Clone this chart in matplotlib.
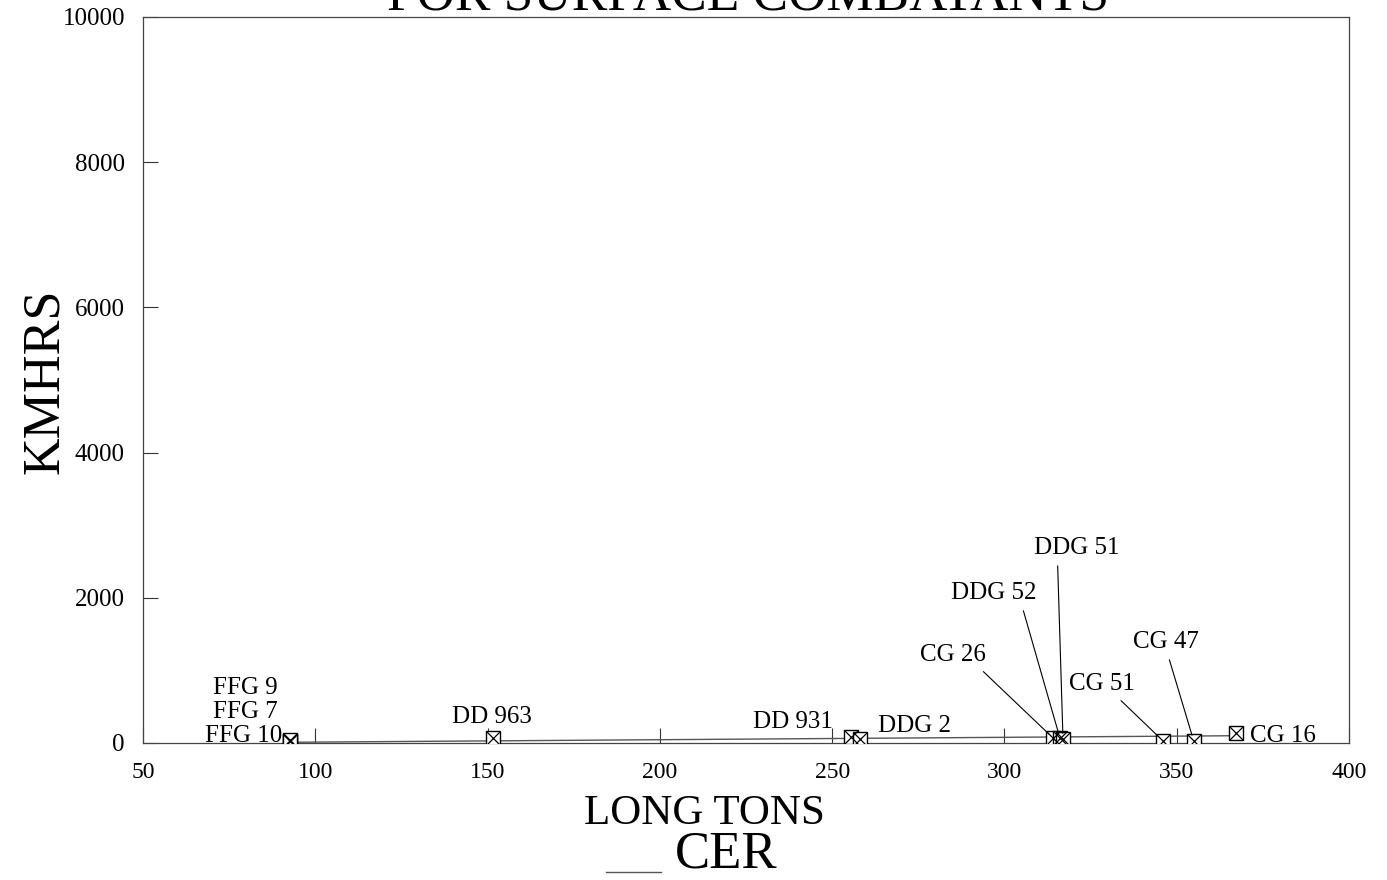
import matplotlib
matplotlib.use("Agg")
import matplotlib.pyplot as plt
from matplotlib.legend_handler import HandlerLine2D
from matplotlib.lines import Line2D

plt.rcParams['font.family'] = ['Liberation Serif', 'DejaVu Serif']

# ---- data ----
ship_names = ["FFG 10", "FFG 7", "FFG 9", "DD 963", "DD 931", "DDG 2",
              "CG 26", "DDG 52", "DDG 51", "CG 51", "CG 47", "CG 16"]
long_tons = [92.8, 92.8, 92.8, 151.7, 255.5, 258.1,
             314.1, 316.1, 317.0, 345.9, 354.9, 367.2]
kmhrs = [25, 30, 35, 69, 83, 55,
         69, 69, 55, 34, 34, 138]

cer_x = [93, 367]
cer_y = [10, 100]

x_ticks = [50, 100, 150, 200, 250, 300, 350, 400]
y_ticks = [0, 2000, 4000, 6000, 8000, 10000]

title_text = "FOR SURFACE COMBATANTS"
x_label = "LONG TONS"
y_label = "KMHRS"
legend_label = "CER"


class BaselineLineHandler(HandlerLine2D):
    """Draw the legend line slightly below the text baseline."""
    def create_artists(self, legend, orig_handle, xdescent, ydescent,
                       width, height, fontsize, trans):
        artists = super().create_artists(legend, orig_handle, xdescent, ydescent,
                                         width, height, fontsize, trans)
        for a in artists:
            if isinstance(a, Line2D):
                a.set_ydata([-3.0] * len(a.get_xdata()))
        return artists


# ---- figure ----
fig = plt.figure(figsize=(13.87, 8.80), dpi=100)
ax = fig.add_axes([0.1031, 0.1557, 0.8695, 0.8250])

cer_line, = ax.plot(cer_x, cer_y, color='#555555', lw=1.0, zorder=2)

ax.plot(long_tons, kmhrs, linestyle='none', marker='s', markersize=10.5,
        markerfacecolor='white', markeredgecolor='black', markeredgewidth=1.0, zorder=3)
ax.plot(long_tons, kmhrs, linestyle='none', marker='x', markersize=10.5,
        markeredgecolor='black', markeredgewidth=0.9, zorder=4)

ax.set_xlim(50, 400)
ax.set_ylim(0, 10000)
ax.set_xticks(x_ticks)
ax.set_yticks(y_ticks)
ax.tick_params(direction='in', length=11, width=0.8, color='#333333')
ax.tick_params(axis='x', pad=14, labelsize=17)
ax.tick_params(axis='y', pad=13, labelsize=18)
for s in ax.spines.values():
    s.set_linewidth(0.9)
    s.set_color('#444444')

ax.set_xlabel(x_label, fontsize=31)
ax.xaxis.set_label_coords((704 - 143) / 1206, (743 - 814) / 726)
ax.xaxis.label.set_va('center')
ax.set_ylabel(y_label, fontsize=37.5)
ax.yaxis.set_label_coords(-(143 - 45) / 1206, (743 - 381) / 726)
ax.yaxis.label.set_va('center')

fs = 18
# plain offset labels
plain = {
    "FFG 10": ((-6, 3.6), 'right'),
    "FFG 7": ((-9, 21), 'right'),
    "FFG 9": ((-9, 37.5), 'right'),
    "DD 963": ((-1, 15), 'center'),
    "DD 931": ((-13, 11), 'right'),
    "DDG 2": ((13, 9.4), 'left'),
    "CG 16": ((10, -2), 'left'),
}
for name, (off, ha) in plain.items():
    i = ship_names.index(name)
    ax.annotate(name, (long_tons[i], kmhrs[i]), xytext=off, textcoords='offset points',
                ha=ha, va='center', fontsize=fs)

# leader-line labels (text centre in data coords, relpos along text bottom)
leaders = {
    "CG 26": ((285.1, 1212), 0.87),
    "DDG 52": ((297.0, 2066), 0.82),
    "DDG 51": ((321.1, 2686), 0.27),
    "CG 51": ((328.3, 813), 0.70),
    "CG 47": ((346.9, 1391), 0.52),
}
for name, (pos, rx) in leaders.items():
    i = ship_names.index(name)
    ax.annotate(name, (long_tons[i], kmhrs[i]), xytext=pos, textcoords='data',
                ha='center', va='center', fontsize=fs,
                arrowprops=dict(arrowstyle='-', color='black', lw=0.8,
                                shrinkA=3, shrinkB=4, relpos=(rx, 0.0)))

fig.text(0.5392, 1 - 9 / 880, title_text, ha='center', va='baseline', fontsize=38.3)

fig.legend([cer_line], [legend_label], loc='center', bbox_to_anchor=(0.499, 0.029),
           frameon=False, fontsize=38, handlelength=1.04, handletextpad=0.27,
           borderpad=0, borderaxespad=0,
           handler_map={Line2D: BaselineLineHandler()})

fig.savefig("out.png", dpi=100)
